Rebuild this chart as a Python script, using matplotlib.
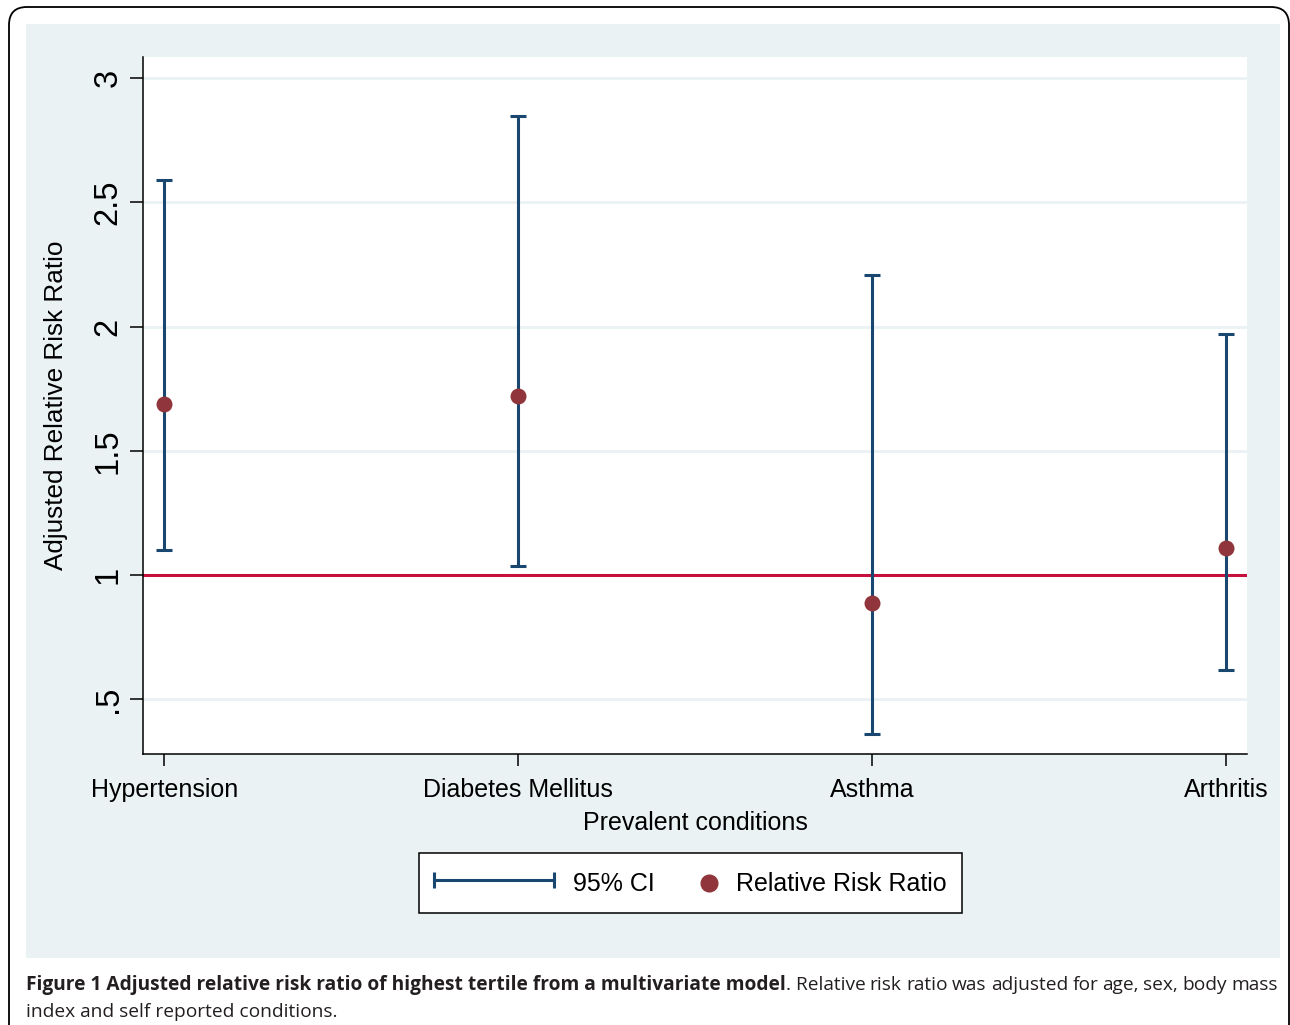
import matplotlib
matplotlib.use("Agg")
import matplotlib.pyplot as plt
from matplotlib.lines import Line2D
from matplotlib.patches import Rectangle, FancyBboxPatch
from matplotlib.transforms import IdentityTransform
from matplotlib.legend_handler import HandlerLine2D

# data
conditions = ["Hypertension", "Diabetes Mellitus", "Asthma", "Arthritis"]
rrr = [1.69, 1.72, 0.886, 1.108]
ci_low = [1.10, 1.035, 0.359, 0.617]
ci_high = [2.589, 2.847, 2.207, 1.969]
yticks = [0.5, 1, 1.5, 2, 2.5, 3]
ytick_labels = [".5", "1", "1.5", "2", "2.5", "3"]

navy = "#1a476f"
maroon = "#90353b"
red = "#c8103c"
panel = "#eaf2f3"

W, H = 1290, 1025
plt.rcParams['font.family'] = ['Liberation Sans', 'DejaVu Sans']

fig = plt.figure(figsize=(W / 100, H / 100), dpi=100, facecolor="white")

# outer rounded frame (cropped journal page) and grey-blue plot region
frame = FancyBboxPatch((9, -30), 1280, H - 7 + 30, boxstyle="round,pad=0,rounding_size=18",
                       transform=IdentityTransform(), facecolor="none", edgecolor="black",
                       lw=1.3, zorder=-5)
fig.patches.append(frame)
fig.patches.append(Rectangle((26 / W, 1 - 958 / H), (1280 - 26) / W, (958 - 24) / H,
                             transform=fig.transFigure, facecolor=panel, edgecolor="none",
                             zorder=-5))

ax = fig.add_axes([143 / W, 1 - 754 / H, (1247 - 143) / W, (754 - 57) / H], zorder=2)
ax.set_facecolor("white")
x = list(range(1, len(conditions) + 1))

yerr = [[r - lo for r, lo in zip(rrr, ci_low)], [hi - r for r, hi in zip(rrr, ci_high)]]
ax.errorbar(x, rrr, yerr=yerr, fmt="none", ecolor=navy, elinewidth=2.2, capsize=5.8, capthick=2.2, zorder=3)
ax.axhline(1, color=red, lw=2.2, zorder=2)
ax.scatter(x, rrr, s=11.5 ** 2, color=maroon, zorder=4, linewidths=0)

ax.set_xlim(0.94, 4.06)
ax.set_ylim(0.279, 3.085)
ax.set_yticks(yticks)
ax.set_yticklabels(ytick_labels, rotation=90, va="center")
ax.set_xticks(x)
ax.set_xticklabels(conditions)
ax.grid(axis="y", color=panel, lw=2, zorder=1)
ax.set_axisbelow(True)
for s in ["top", "right"]:
    ax.spines[s].set_visible(False)
for s in ["left", "bottom"]:
    ax.spines[s].set_linewidth(1.1)
ax.tick_params(axis="x", labelsize=18, width=1.1, length=8.6, pad=9)
ax.tick_params(axis="y", labelsize=23.5, width=1.1, length=9.4, pad=4.5)
ax.set_xlabel("Prevalent conditions", fontsize=18, labelpad=6)
ax.set_ylabel("Adjusted Relative Risk Ratio", fontsize=18.8, labelpad=18)


class DotHandler:
    def legend_artist(self, legend, orig_handle, fontsize, handlebox):
        w, h = handlebox.width, handlebox.height
        dot = Line2D([w - 6], [h / 2 - handlebox.ydescent], marker="o", ms=12, color=maroon, lw=0)
        handlebox.add_artist(dot)
        return dot


ci_handle = Line2D([], [], color=navy, lw=2.2, marker="|", ms=11.5, mew=2.2)
dot_handle = Line2D([], [], marker="o", color=maroon, lw=0)
leg = fig.legend([ci_handle, dot_handle], ["95% CI", "Relative Risk Ratio"],
                 handler_map={dot_handle: DotHandler(), ci_handle: HandlerLine2D(marker_pad=0, numpoints=2)},
                 loc="center", bbox_to_anchor=(690.5 / W, 1 - 883 / H), ncol=2,
                 fontsize=18, handlelength=4.8, handleheight=1.4, handletextpad=0.76,
                 columnspacing=-2.3, frameon=True, fancybox=False, edgecolor="black",
                 framealpha=1, borderpad=0.62, borderaxespad=0)
leg.get_frame().set_linewidth(1.1)

# caption, first line justified
cap_font = ['Open Sans', 'DejaVu Sans']
cap_size = 13.8
bold_str = "Figure 1 Adjusted relative risk ratio of highest tertile from a multivariate model"
rest = [". Relative", "risk", "ratio", "was", "adjusted", "for", "age,", "sex,", "body", "mass"]
fig.canvas.draw()
r = fig.canvas.get_renderer()
y1 = 1 - 990 / H
bt = fig.text(26 / W, y1, bold_str, fontsize=cap_size, fontweight="bold", family=cap_font, color="#231f20")
bx1 = bt.get_window_extent(r).x1
words = [fig.text(0, y1, w, fontsize=cap_size, family=cap_font, color="#231f20") for w in rest]
widths = [t.get_window_extent(r).width for t in words]
gap = (1278 - bx1 - sum(widths)) / (len(words) - 1)
pos = bx1
for t, wd in zip(words, widths):
    t.set_x(pos / W)
    pos += wd + gap
fig.text(26 / W, 1 - 1017 / H, "index and self reported conditions.", fontsize=cap_size,
         family=cap_font, color="#231f20")

fig.savefig("out.png", dpi=100, facecolor="white")
